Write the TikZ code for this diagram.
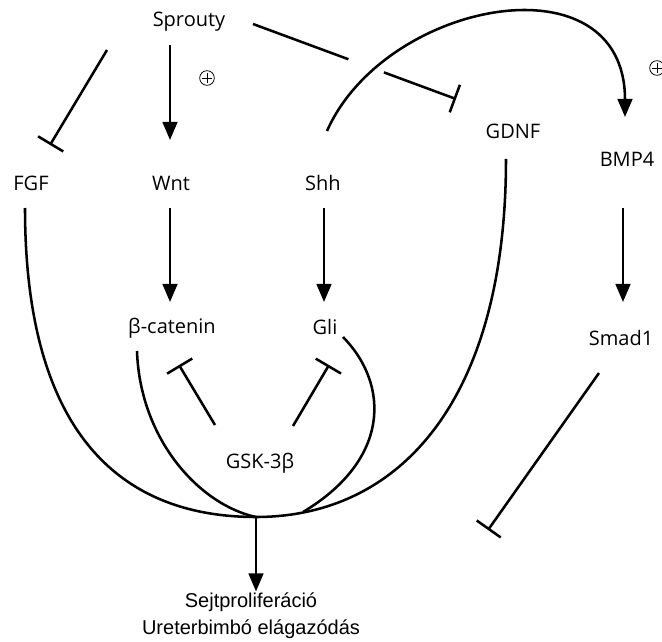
\documentclass[tikz,border=0pt]{standalone}
\usepackage{fontspec}
\setmainfont{Open Sans}
\newfontfamily\outfont{Liberation Sans}
\usetikzlibrary{positioning, arrows.meta, calc}

\begin{document}
\begin{tikzpicture}[x=0.75pt, y=-0.75pt,
          gennode/.style={font=\fontsize{15}{18}\selectfont, inner sep=1pt},
          actarrow/.style={-{Triangle[length=13.5pt, width=11pt]}, line width=1.9pt},
          inharrow/.style={-{Bar[width=22pt]}, line width=1.9pt},
          plainline/.style={line width=1.9pt},
          plussign/.style={circle, draw, line width=0.6pt, minimum size=11pt, inner sep=0pt,
            path picture={\draw[line width=0.6pt]
              ([xshift=-3.6pt]path picture bounding box.center) -- ([xshift=3.6pt]path picture bounding box.center)
              ([yshift=-3.6pt]path picture bounding box.center) -- ([yshift=3.6pt]path picture bounding box.center);}}
        ]
          \useasboundingbox (0,0) rectangle (662,642);

          \node[gennode] (Sprouty) at (189,22) {Sprouty};
          \node[gennode] (FGF) at (31,183) {FGF};
          \node[gennode] (Wnt) at (171,183) {Wnt};
          \node[gennode] (Shh) at (323,183) {Shh};
          \node[gennode] (GDNF) at (513,131) {GDNF};
          \node[gennode] (BMP4) at (627,159) {BMP4};
          \node[gennode] (bcat) at (172,328) {β-catenin};
          \node[gennode] (Gli) at (325,327) {Gli};
          \node[gennode] (Smad1) at (621,338) {Smad1};
          \node[gennode] (GSK) at (260,463) {GSK-3β};
          \node[gennode, font={\outfont\fontsize{15}{20.25}\selectfont}, align=center] (out) at (251,616)
            {Sejtproliferáció\\Ureterbimbó elágazódás};

          \node[plussign] (plusA) at (207,78) {};
          \node[plussign] (plusB) at (657,68) {};

          \coordinate (J) at (256,517);
          \coordinate (gliJ) at (303,512);
          \coordinate (smT) at (488,530);
          \coordinate (spA) at ($(Sprouty)+(64,2)$);
          \coordinate (spB) at ($(GDNF)+(-57,-32)$);

          % Sprouty
          \draw[inharrow] ($(Sprouty)+(-82,28)$) -- ($(FGF)+(19,-38)$);
          \draw[actarrow] ($(Sprouty)+(-19,23)$) -- ($(Wnt)+(-1,-43)$);
          \draw[plainline] (spA) -- ($(spA)!0.47!(spB)$);
          \draw[inharrow] ($(spA)!0.645!(spB)$) -- (spB);

          % Shh to BMP4
          \draw[actarrow] ($(Shh)+(4,-52)$) .. controls +(58,-131) and +(0,-162) .. ($(BMP4)+(-2,-42)$);

          \draw[actarrow] ($(Wnt)+(-1,25)$) -- ($(bcat)+(-2,-26)$);
          \draw[actarrow] ($(Shh)+(1,25)$) -- ($(Gli)+(-1,-25)$);
          \draw[actarrow] ($(BMP4)+(-4,49)$) -- ($(Smad1)+(2,-36)$);
          \draw[inharrow] ($(Smad1)+(-22,35)$) -- (smT);

          % GSK-3b
          \draw[inharrow] ($(GSK)+(-45,-38)$) -- ($(bcat)+(7,37)$);
          \draw[inharrow] ($(GSK)+(33,-37)$) -- ($(Gli)+(4,38)$);

          % curves into the output
          \draw[plainline] ($(FGF)+(-6,25)$) .. controls +(0,212) and +(-146,0) .. (J);
          \draw[plainline] ($(GDNF)+(-7,28)$) .. controls +(0,241) and +(144,0) .. (J);
          \draw[plainline] ($(bcat)+(-35,23)$) .. controls +(3,89) and +(-56,-12) .. (J);
          \draw[plainline] ($(Gli)+(18,10)$) .. controls +(47,48) and +(87,-52) .. (gliJ);
          \draw[actarrow] (J) -- (J |- out.north);
        \end{tikzpicture}
\end{document}
